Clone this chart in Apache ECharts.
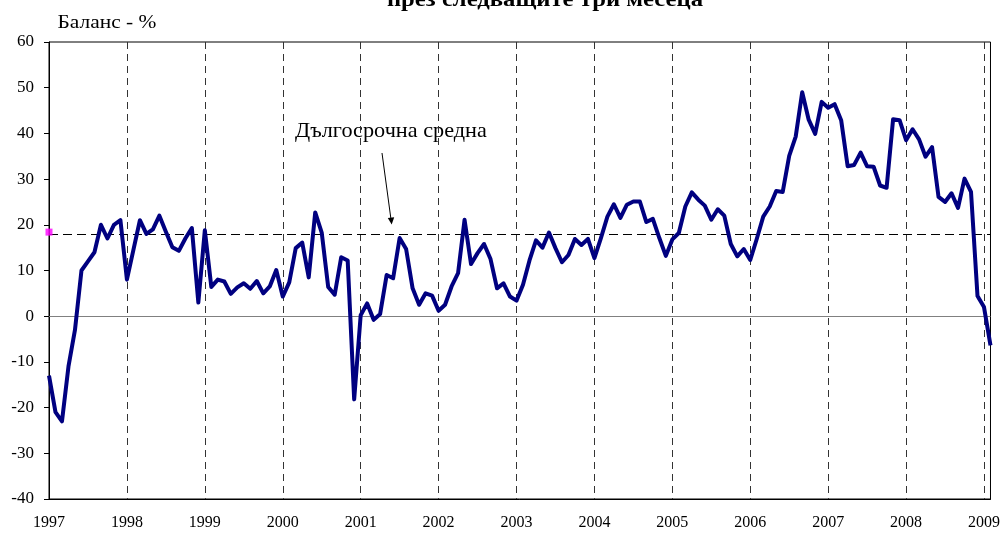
<!DOCTYPE html>
<html>
<head>
<meta charset="utf-8">
<script src="https://cdn.jsdelivr.net/npm/echarts@6/dist/echarts.min.js"></script>
<style>
  html, body { margin: 0; padding: 0; background: #fff; }
  #chart { width: 1003px; height: 533px; }
</style>
</head>
<body>
<div id="chart"></div>
<script>
// Tick labels (years) and month codes
const years = ['1997','1998','1999','2000','2001','2002','2003','2004','2005','2006','2007','2008','2009'];
const months = ['01','02','03','04','05','06','07','08','09','10','11','12'];

// Balance, %  (monthly, Jan 1997 – Feb 2009)
const balance1997 = [-13, -21, -23, -11, -3, 10, 12, 14, 20, 17, 20, 21];
const balance1998 = [8, 14.5, 21, 18, 19, 22, 18.5, 15.1, 14.3, 17, 19.3, 3];
const balance1999 = [18.8, 6.4, 8.0, 7.6, 4.9, 6.3, 7.2, 6.0, 7.7, 5.0, 6.5, 10.1];
const balance2000 = [4.3, 7.4, 14.9, 16.1, 8.5, 22.7, 18.3, 6.4, 4.7, 12.9, 12.2, -18.2];
const balance2001 = [0.2, 2.8, -0.8, 0.5, 9.0, 8.3, 17.1, 14.7, 6.1, 2.5, 5.0, 4.5];
const balance2002 = [1.2, 2.5, 6.5, 9.4, 21.1, 11.4, 13.8, 15.8, 12.5, 6.1, 7.2, 4.3];
const balance2003 = [3.4, 6.9, 12.2, 16.6, 15.0, 18.3, 14.9, 11.8, 13.4, 16.9, 15.6, 16.9];
const balance2004 = [12.7, 17.1, 21.8, 24.5, 21.5, 24.4, 25.1, 25.1, 20.6, 21.3, 17.1, 13.2];
const balance2005 = [16.8, 18.2, 24.0, 27.1, 25.5, 24.2, 21.1, 23.4, 22.0, 15.8, 13.1, 14.7];
const balance2006 = [12.3, 16.9, 21.8, 24.0, 27.4, 27.2, 35.1, 39.3, 49.0, 43.0, 39.9, 46.9];
const balance2007 = [45.6, 46.4, 42.9, 32.8, 33.1, 35.8, 32.8, 32.7, 28.6, 28.1, 43.1, 42.9];
const balance2008 = [38.5, 40.9, 38.7, 34.9, 37.0, 26.1, 25.0, 26.9, 23.7, 30.1, 27.2, 4.4];
const balance2009 = [2.0, -6.4];

// Long-term average and the marker shown on the left axis
const longTermAverage = [17.9];
const averageMarker = [18.4];

// Y-axis ticks
const yTicks = [-40, -30, -20, -10, 0, 10, 20, 30, 40, 50, 60];

const balance = [].concat(balance1997, balance1998, balance1999, balance2000, balance2001,
  balance2002, balance2003, balance2004, balance2005, balance2006, balance2007,
  balance2008, balance2009);

const categories = [];
years.forEach(y => months.forEach(m => categories.push(y + '-' + m)));
categories.length = balance.length;

const serif = '"Liberation Serif", "DejaVu Serif", serif';

const chart = echarts.init(document.getElementById('chart'), null, { renderer: 'canvas' });

const option = {
  animation: false,
  backgroundColor: '#ffffff',
  grid: {
    left: 49, right: 12, top: 42, bottom: 34,
    show: true, borderColor: '#000', borderWidth: 1, backgroundColor: 'transparent'
  },
  xAxis: {
    type: 'category',
    data: categories,
    boundaryGap: false,
    axisLine: { onZero: false, lineStyle: { color: '#000', width: 1 } },
    axisTick: { show: false },
    axisLabel: {
      interval: (i, v) => v.endsWith('-01'),
      formatter: v => v.slice(0, 4),
      fontFamily: serif, fontSize: 16, color: '#000', margin: 16
    },
    splitLine: {
      show: true,
      interval: (i, v) => v.endsWith('-01') && i > 0,
      lineStyle: { color: '#333', width: 1, type: [7, 5] }
    }
  },
  yAxis: {
    type: 'value',
    min: yTicks[0], max: yTicks[yTicks.length - 1], interval: 10,
    axisLine: { show: true, lineStyle: { color: '#000', width: 1 } },
    axisTick: { show: true, length: 5, lineStyle: { color: '#000' } },
    axisLabel: { fontFamily: serif, fontSize: 17, color: '#000', margin: 15 },
    splitLine: { show: false }
  },
  series: [
    {
      type: 'line',
      data: balance,
      symbol: 'none',
      lineStyle: { color: '#000080', width: 4, join: 'round' },
      z: 5,
      markLine: {
        silent: true,
        symbol: 'none',
        label: { show: false },
        data: [
          { yAxis: 0, lineStyle: { color: '#808080', width: 1, type: 'solid' } },
          { yAxis: longTermAverage[0], lineStyle: { color: '#000', width: 1.2, type: [9, 5] } }
        ]
      }
    },
    {
      type: 'scatter',
      data: averageMarker.map((v, i) => [i, v]),
      symbol: 'rect',
      symbolSize: 7,
      itemStyle: { color: '#FF00FF' },
      z: 6
    }
  ],
  graphic: [
    {
      type: 'text', x: 545, y: 0.5, scaleX: 1.175,
      style: { text: 'през следващите три месеца', font: 'bold 21px ' + serif, fill: '#000',
               align: 'center', verticalAlign: 'middle' }
    },
    {
      type: 'text', x: 57.5, y: 23.5, scaleX: 1.19,
      style: { text: 'Баланс - %', font: '18px ' + serif, fill: '#000', verticalAlign: 'middle' }
    },
    {
      type: 'text', x: 295, y: 131, scaleX: 1.06,
      style: { text: 'Дългосрочна средна', font: '21px ' + serif, fill: '#000', verticalAlign: 'middle' }
    },
    {
      type: 'line',
      shape: { x1: 382, y1: 153, x2: 390.8, y2: 218 },
      style: { stroke: '#000', lineWidth: 1 }
    },
    {
      type: 'polygon',
      shape: { points: [[391.7, 224.5], [394.2, 217.2], [387.8, 218.0]] },
      style: { fill: '#000' }
    }
  ]
};

chart.setOption(option);
</script>
</body>
</html>
